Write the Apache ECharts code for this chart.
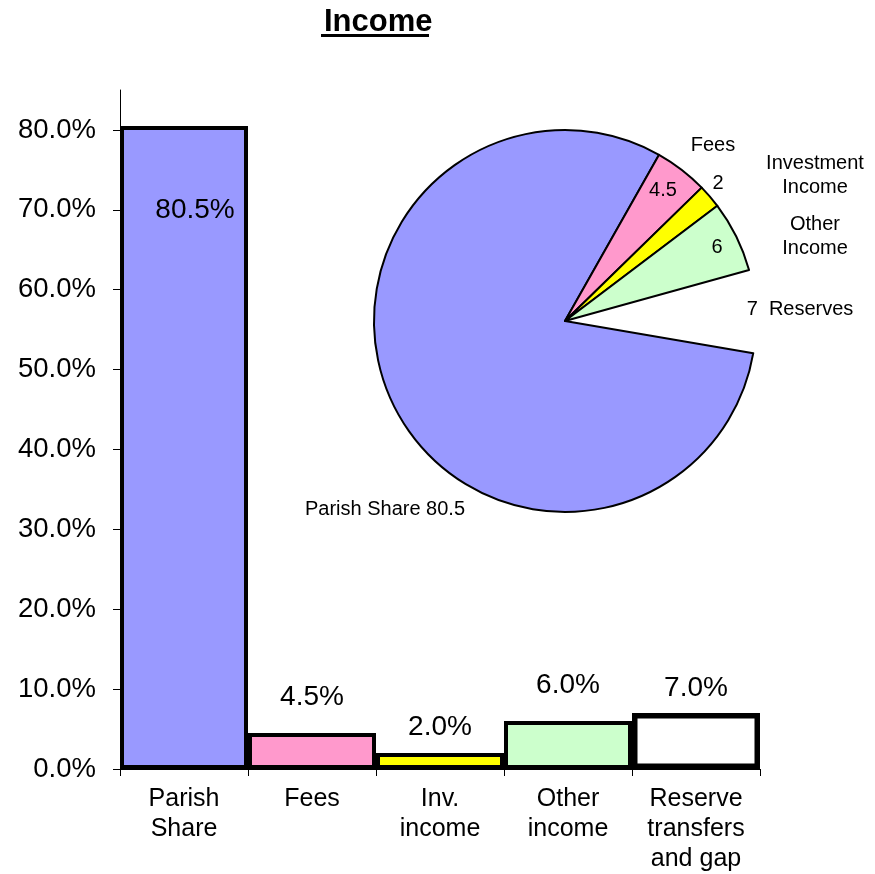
<!DOCTYPE html>
<html>
<head>
<meta charset="utf-8">
<script src="https://cdn.jsdelivr.net/npm/echarts@6/dist/echarts.min.js"></script>
<style>
html,body{margin:0;padding:0;background:#fff;}
#chart{width:875px;height:874px;}
</style>
</head>
<body>
<div id="chart"></div>
<script>
// ---- data ----
const titleText = 'Income';
const categories = ['Parish\nShare', 'Fees', 'Inv.\nincome', 'Other\nincome', 'Reserve\ntransfers\nand gap'];
const barValues = [80.5, 4.5, 2.0, 6.0, 7.0];
const yTicks = [0, 10, 20, 30, 40, 50, 60, 70, 80];
const pieNames = ['Parish Share', 'Fees', 'Investment\nIncome', 'Other\nIncome', 'Reserves'];
const pieValues = [80.5, 4.5, 2, 6, 7];
const sliceColors = ['#9999FF', '#FF99CC', '#FFFF00', '#CCFFCC', '#FFFFFF'];

// ---- styling / layout ----
const FONT = "'Liberation Sans', Arial, Helvetica, sans-serif";
const barLabelPos = [
  { position: 'insideTop', distance: 70, offset: [11, 0] },
  { position: 'top', distance: 22 },
  { position: 'top', distance: 12 },
  { position: 'top', distance: 22 },
  { position: 'top', distance: 11 }
];
const barBorder = [4, 4, 4, 4, 5.5];
// pie label anchor points (px)
const valueLabelAt = [[385, 509], [663, 190], [718, 183], [717, 247], [800, 309]];
const nameLabelAt = [null, [713, 145], [815, 175], [815, 236], null];

const chart = echarts.init(document.getElementById('chart'), null, { renderer: 'canvas' });

const barData = barValues.map((v, i) => ({
  value: v,
  itemStyle: { color: sliceColors[i], borderColor: '#000', borderWidth: barBorder[i] },
  label: Object.assign({}, barLabelPos[i])
}));

const pieValueData = pieValues.map((v, i) => ({
  name: pieNames[i],
  value: v,
  itemStyle: i === 4
    ? { color: 'rgba(0,0,0,0)', borderWidth: 0 }
    : { color: sliceColors[i], borderColor: '#000', borderWidth: 2 }
}));

const pieNameData = pieValues.map((v, i) => ({
  name: pieNames[i],
  value: v,
  label: { show: nameLabelAt[i] !== null }
}));

const option = {
  backgroundColor: '#fff',
  animation: false,
  textStyle: { fontFamily: FONT, color: '#000' },
  title: {
    text: titleText,
    left: 319,
    top: 2,
    textStyle: { fontFamily: FONT, fontSize: 31, fontWeight: 'bold', color: '#000' }
  },
  graphic: [{
    type: 'rect',
    shape: { x: 321, y: 34, width: 108, height: 3 },
    style: { fill: '#000' }
  }],
  grid: { left: 120, right: 115, top: 90, bottom: 104, containLabel: false },
  xAxis: {
    type: 'category',
    data: categories,
    boundaryGap: true,
    axisLine: { show: true, lineStyle: { color: '#000', width: 1 } },
    axisTick: { show: true, length: 7, lineStyle: { color: '#000' } },
    axisLabel: {
      color: '#000', fontFamily: FONT, fontSize: 25, lineHeight: 30,
      margin: 15, interval: 0
    },
    splitLine: { show: false }
  },
  yAxis: {
    type: 'value',
    min: 0,
    max: 85,
    interval: 10,
    axisLine: { show: true, lineStyle: { color: '#000', width: 1 } },
    axisTick: { show: true, length: 7, lineStyle: { color: '#000' }, customValues: yTicks },
    axisLabel: {
      color: '#000', fontFamily: FONT, fontSize: 27.5, margin: 24,
      customValues: yTicks,
      formatter: v => (v > 80 ? '' : v.toFixed(1) + '%')
    },
    splitLine: { show: false }
  },
  series: [
    {
      type: 'bar',
      data: barData,
      barWidth: '100%',
      barCategoryGap: '0%',
      label: {
        show: true,
        color: '#000',
        fontFamily: FONT,
        fontSize: 28,
        formatter: p => p.value.toFixed(1) + '%'
      },
      z: 3
    },
    {
      type: 'pie',
      center: [565, 321],
      radius: 191,
      startAngle: 350.3,
      clockwise: true,
      avoidLabelOverlap: false,
      data: pieValueData,
      label: {
        show: true,
        position: 'inside',
        color: '#000',
        fontFamily: FONT,
        fontSize: 20,
        formatter: p => {
          if (p.dataIndex === 0) return p.name + ' ' + p.value;
          if (p.dataIndex === 4) return p.value + '  ' + p.name;
          return String(p.value);
        }
      },
      labelLine: { show: false },
      labelLayout: p => {
        const pt = valueLabelAt[p.dataIndex];
        return { x: pt[0], y: pt[1], align: 'center', verticalAlign: 'middle' };
      },
      emphasis: { disabled: true },
      z: 4
    },
    {
      type: 'pie',
      center: [565, 321],
      radius: 191,
      startAngle: 350.3,
      clockwise: true,
      silent: true,
      avoidLabelOverlap: false,
      data: pieNameData,
      itemStyle: { color: 'rgba(0,0,0,0)', borderWidth: 0 },
      label: {
        position: 'inside',
        color: '#000',
        fontFamily: FONT,
        fontSize: 20,
        lineHeight: 24,
        align: 'center',
        formatter: p => p.name
      },
      labelLine: { show: false },
      labelLayout: p => {
        const pt = nameLabelAt[p.dataIndex];
        if (!pt) return {};
        return { x: pt[0], y: pt[1], align: 'center', verticalAlign: 'middle' };
      },
      emphasis: { disabled: true },
      z: 5
    }
  ]
};

chart.setOption(option);
</script>
</body>
</html>
